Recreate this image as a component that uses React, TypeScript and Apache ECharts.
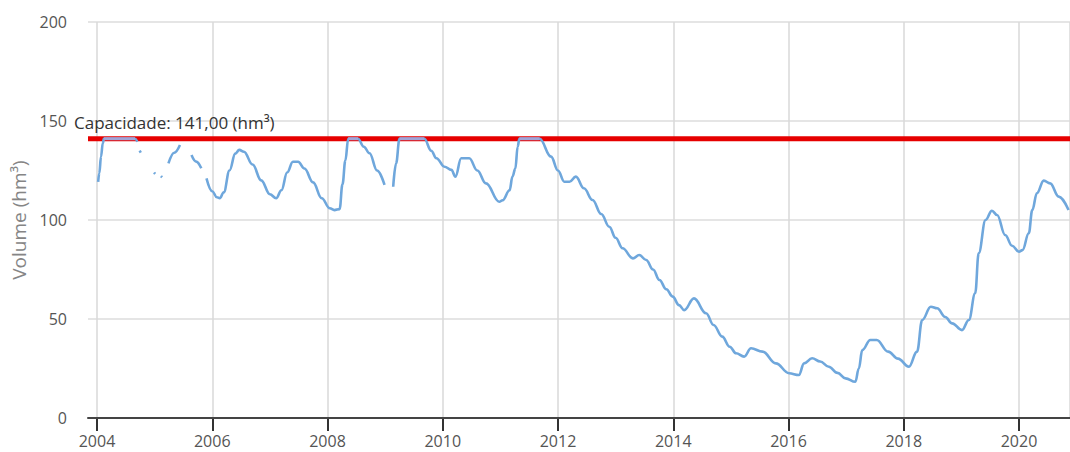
import React, { useEffect, useRef } from "react";
import * as echarts from "echarts";

const years: number[] = [
  2004.02, 2004.04, 2004.07, 2004.1, 2004.12, 2004.4, 2004.66, 2004.7, NaN,
  2004.74, 2004.76, NaN,
  2004.99, 2005.01, NaN,
  2005.11, 2005.13, NaN,
  2005.24, 2005.34, 2005.44, NaN,
  2005.64, 2005.72, 2005.81, NaN,
  2005.9, 2006.0, 2006.08, 2006.13, 2006.2, 2006.3, 2006.4, 2006.47, 2006.55, 2006.7, 2006.85,
  2007.0, 2007.11, 2007.2, 2007.3, 2007.4, 2007.49, 2007.6, 2007.75, 2007.9,
  2008.04, 2008.12, 2008.21, 2008.26, 2008.31, 2008.36, 2008.53, 2008.63, 2008.73, 2008.86, 2008.99, NaN,
  2009.14, 2009.19, 2009.25, 2009.68, 2009.8, 2009.89,
  2010.03, 2010.15, 2010.22, 2010.32, 2010.46, 2010.6, 2010.75, 2010.98,
  2011.04, 2011.16, 2011.21, 2011.26, 2011.3, 2011.33, 2011.68, 2011.88,
  2012.0, 2012.11, 2012.2, 2012.31, 2012.45, 2012.6, 2012.75, 2012.89,
  2013.0, 2013.12, 2013.3, 2013.41, 2013.53, 2013.65, 2013.76, 2013.88, 2013.99,
  2014.1, 2014.19, 2014.36, 2014.57, 2014.7, 2014.85, 2014.98,
  2015.09, 2015.23, 2015.35, 2015.55, 2015.78,
  2016.01, 2016.18, 2016.27, 2016.41, 2016.55, 2016.7, 2016.85, 2016.99,
  2017.16, 2017.22, 2017.28, 2017.42, 2017.53, 2017.73, 2017.9,
  2018.09, 2018.23, 2018.32, 2018.47, 2018.58, 2018.72, 2018.84,
  2019.01, 2019.13, 2019.24, 2019.3, 2019.42, 2019.53, 2019.62, 2019.76, 2019.88,
  2020.0, 2020.06, 2020.17, 2020.23, 2020.31, 2020.43, 2020.54, 2020.69, 2020.86,
];

const volumes: (number | null)[] = [
  119.3, 123.6, 132, 138.7, 141, 141, 141, 139.5, null,
  135, 134, null,
  124, 123.3, null,
  122.2, 121.6, null,
  128.6, 134, 137.9, null,
  132.8, 129.5, 126.1, null,
  121, 114.5, 111.5, 111, 114, 125, 133.5, 135.4, 134.5, 128, 120,
  113, 111, 115, 124, 129.4, 129.4, 126, 119, 111,
  105.9, 105, 105.5, 118, 130, 141, 141, 137, 133.7, 125, 117.7, null,
  116.8, 128.6, 141, 141, 135, 131.2,
  126.9, 125.3, 121.9, 131.2, 131.2, 125, 118.5, 109.2,
  110, 115, 121.9, 126, 137, 141, 141, 132,
  125, 119.3, 119.3, 121.9, 116, 110.1, 103, 96.6,
  91, 85.7, 80.6, 82.3, 79.8, 75, 69.7, 65, 61.3,
  57, 54.5, 60.4, 52.9, 47, 41.1, 36,
  32.7, 31, 35.2, 33.5, 27.6,
  22.6, 21.7, 27.6, 30.2, 28.5, 25.9, 22.8, 20,
  18.3, 25, 34.3, 39.4, 39.4, 33.5, 30,
  25.9, 33.5, 49.5, 56.2, 55.4, 51, 47.8,
  44.4, 49.5, 63, 83.2, 100, 104.7, 102.5, 92.4, 87,
  84, 84.8, 93.3, 105, 113.5, 119.9, 118.5, 111.8, 105,
];

const capacity = 141;
const capacityLabel = "Capacidade: 141,00 (hm³)";
const xFirstTick = 2004;
const xTickInterval = 2;
const xMin = 2003.844;
const xMax = 2020.885;
const yMin = 0;
const yMax = 200;
const yInterval = 50;
const yName = "Volume (hm³)";

const FONT = '"Open Sans", "Noto Sans", sans-serif';

export default function App() {
  const ref = useRef<HTMLDivElement>(null);
  useEffect(() => {
    document.body.style.margin = "0";
    const chart = echarts.init(ref.current!, null, { renderer: "svg" });
    const xs = years.map((x, i) => (isNaN(x) ? (years[i - 1] + years[i + 1]) / 2 : x));
    const volData = xs.map((x, i) => [x, volumes[i] == null ? null : volumes[i]]);
    const fullData = xs.map((x, i) => [x, volumes[i] != null && (volumes[i] as number) >= capacity ? volumes[i] : null]);
    chart.setOption({
      animation: false,
      backgroundColor: "#ffffff",
      textStyle: { fontFamily: FONT },
      grid: [
        { left: 88, right: 0, top: 22, bottom: 34, containLabel: false },
        { left: 97, right: 0, top: 22, bottom: 34, containLabel: false },
      ],
      xAxis: [
        {
          type: "value",
          gridIndex: 0,
          min: xMin,
          max: xMax,
          axisLine: { show: true, onZero: false, lineStyle: { color: "#444", width: 2 } },
          axisTick: { show: false },
          axisLabel: { show: false },
          splitLine: { show: false },
          z: 5,
        },
        {
          type: "value",
          gridIndex: 1,
          min: xFirstTick,
          max: xMax,
          interval: xTickInterval,
          axisLine: { show: false, onZero: false },
          axisTick: { show: true, length: 13, lineStyle: { color: "#333", width: 2 } },
          axisLabel: {
            formatter: (v: number) => (Math.abs(v - Math.round(v)) < 1e-6 ? String(Math.round(v)) : ""),
            showMaxLabel: false,
            color: "#555",
            fontSize: 16,
            fontFamily: FONT,
            margin: 15,
          },
          splitLine: { show: true, lineStyle: { color: "#d9d9d9", width: 1.5 } },
        },
      ],
      yAxis: [
        {
          type: "value",
          gridIndex: 0,
          min: yMin,
          max: yMax,
          interval: yInterval,
          axisLine: { show: false },
          axisTick: { show: false },
          axisLabel: { color: "#555", fontSize: 16, fontFamily: FONT, margin: 21 },
          splitLine: { show: true, lineStyle: { color: "#dddddd", width: 1.5 } },
          name: yName,
          nameLocation: "middle",
          nameGap: 59,
          nameTextStyle: { color: "#858585", fontSize: 19, fontFamily: FONT },
        },
        {
          type: "value",
          gridIndex: 1,
          min: yMin,
          max: yMax,
          interval: yInterval,
          show: false,
          splitLine: { show: false },
        },
      ],
      series: [
        {
          type: "line",
          xAxisIndex: 0,
          yAxisIndex: 0,
          silent: true,
          symbol: "none",
          data: [
            [xMin, capacity],
            [xMax, capacity],
          ],
          lineStyle: { color: "#e60000", width: 5 },
          z: 2,
        },
        {
          type: "line",
          xAxisIndex: 0,
          yAxisIndex: 0,
          symbol: "none",
          showSymbol: false,
          connectNulls: false,
          smooth: 0.4,
          smoothMonotone: "x",
          data: volData,
          lineStyle: { color: "#6fa7dc", width: 2.6 },
          z: 3,
        },
        {
          type: "line",
          xAxisIndex: 0,
          yAxisIndex: 0,
          symbol: "none",
          showSymbol: false,
          connectNulls: false,
          silent: true,
          data: fullData,
          lineStyle: { color: "#a2a3d6", width: 3 },
          z: 4,
        },
      ],
      graphic: [
        {
          type: "text",
          left: 74,
          top: 114,
          z: 10,
          style: {
            text: capacityLabel,
            fill: "#333",
            font: `17px ${FONT}`,
          },
        },
      ],
    });
    return () => chart.dispose();
  }, []);
  return <div ref={ref} style={{ width: 1070, height: 452 }} />;
}
